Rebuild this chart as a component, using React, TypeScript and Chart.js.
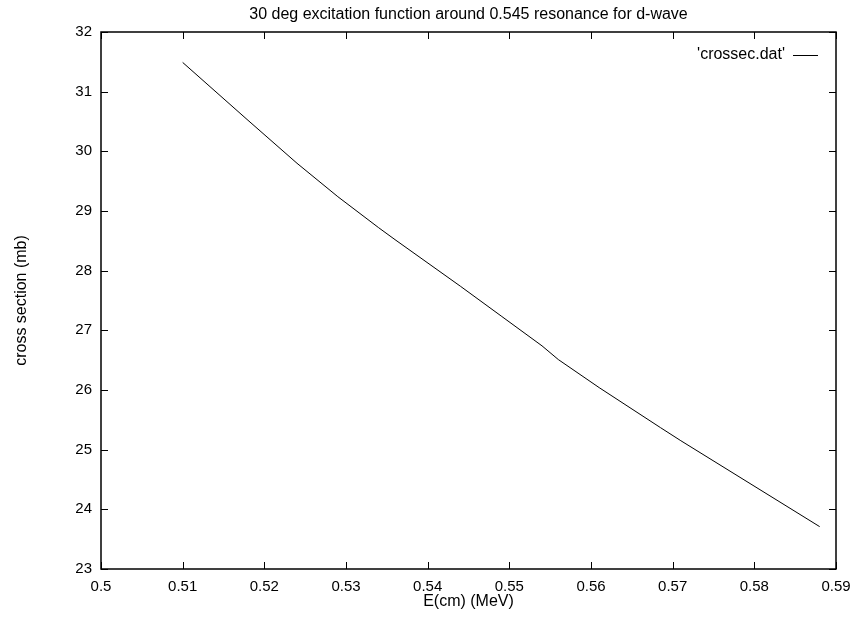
import React, { useEffect, useRef } from "react";
import { Chart, registerables } from "chart.js";

Chart.register(...registerables);

const energies = [0.51, 0.518, 0.524, 0.529, 0.534, 0.536, 0.544, 0.549, 0.554, 0.556, 0.561, 0.5685, 0.571, 0.588];
const crossSection = [31.49, 30.52, 29.8, 29.24, 28.72, 28.52, 27.74, 27.24, 26.74, 26.51, 26.04, 25.37, 25.15, 23.71];
const seriesName = "'crossec.dat'";
const titleText = "30 deg excitation function around 0.545 resonance for d-wave";
const xTitle = "E(cm) (MeV)";
const yTitle = "cross section (mb)";

const FONT = "'Liberation Sans', Arial, sans-serif";

const framePlugin = {
  id: "gnuFrame",
  afterDraw(chart: any) {
    const { ctx, chartArea } = chart;
    const { left, right, top, bottom } = chartArea;
    const xs = chart.scales.x;
    const ys = chart.scales.y;
    ctx.save();
    ctx.strokeStyle = "#000";
    ctx.lineWidth = 1;
    const tl = 7;
    xs.ticks.forEach((t: any) => {
      const px = Math.round(xs.getPixelForValue(t.value)) + 0.5;
      ctx.beginPath();
      ctx.moveTo(px, bottom);
      ctx.lineTo(px, bottom - tl);
      ctx.moveTo(px, top);
      ctx.lineTo(px, top + tl);
      ctx.stroke();
    });
    ys.ticks.forEach((t: any) => {
      const py = Math.round(ys.getPixelForValue(t.value)) + 0.5;
      ctx.beginPath();
      ctx.moveTo(left, py);
      ctx.lineTo(left + tl, py);
      ctx.moveTo(right, py);
      ctx.lineTo(right - tl, py);
      ctx.stroke();
    });
    ctx.lineWidth = 1.5;
    ctx.strokeRect(left, top, right - left, bottom - top);
    // legend
    const ds = chart.data.datasets[0];
    ctx.font = `16px ${FONT}`;
    ctx.fillStyle = "#000";
    ctx.textAlign = "right";
    ctx.textBaseline = "middle";
    const ly = top + 23;
    const lx = right - 51;
    ctx.fillText(ds.label, lx, ly);
    ctx.lineWidth = 1;
    ctx.beginPath();
    ctx.moveTo(lx + 8, ly + 0.5);
    ctx.lineTo(lx + 33, ly + 0.5);
    ctx.stroke();
    ctx.restore();
  },
};

export default function App() {
  const ref = useRef<HTMLCanvasElement>(null);
  useEffect(() => {
    if (!ref.current) return;
    Chart.defaults.color = "#000";
    Chart.defaults.font.family = FONT;
    Chart.defaults.font.size = 15;
    const chart = new Chart(ref.current, {
      type: "line",
      data: {
        datasets: [
          {
            label: seriesName,
            data: energies.map((e, i) => ({ x: e, y: crossSection[i] })),
            borderColor: "#000",
            borderWidth: 1,
            pointRadius: 0,
            tension: 0,
            fill: false,
          },
        ],
      },
      options: {
        responsive: false,
        animation: false,
        layout: { padding: { left: 0, right: 19, top: 0, bottom: 0 } },
        plugins: {
          legend: { display: false },
          tooltip: { enabled: false },
          title: {
            display: true,
            fullSize: false,
            text: titleText,
            font: { size: 16, weight: "normal" },
            color: "#000",
            padding: { top: 5, bottom: 7.8 },
          },
        },
        scales: {
          x: {
            type: "linear",
            min: 0.5,
            max: 0.59,
            grid: { display: false, drawTicks: false },
            border: { display: false },
            ticks: {
              stepSize: 0.01,
              padding: 9,
              maxRotation: 0,
              autoSkip: false,
              callback: (v: any) => String(+Number(v).toFixed(2)),
            },
            title: { display: true, text: xTitle, font: { size: 16 }, padding: { top: 0, bottom: 5.4 } },
            afterFit: (s: any) => {
              s.height = 48;
              s.paddingLeft = 0;
              s.paddingRight = 0;
            },
          },
          y: {
            type: "linear",
            min: 23,
            max: 32,
            grid: { display: false, drawTicks: false },
            border: { display: false },
            ticks: { stepSize: 1, padding: 9, autoSkip: false },
            title: { display: true, text: yTitle, font: { size: 16 }, padding: { top: 12.4, bottom: 0 } },
            afterFit: (s: any) => {
              s.width = 101;
              s.paddingTop = 0;
              s.paddingBottom = 0;
            },
          },
        },
      },
      plugins: [framePlugin],
    });
    return () => chart.destroy();
  }, []);
  return (
    <div style={{ position: "absolute", left: 0, top: 0, width: 855, height: 617, background: "#fff" }}>
      <canvas ref={ref} width={855} height={617} />
    </div>
  );
}
